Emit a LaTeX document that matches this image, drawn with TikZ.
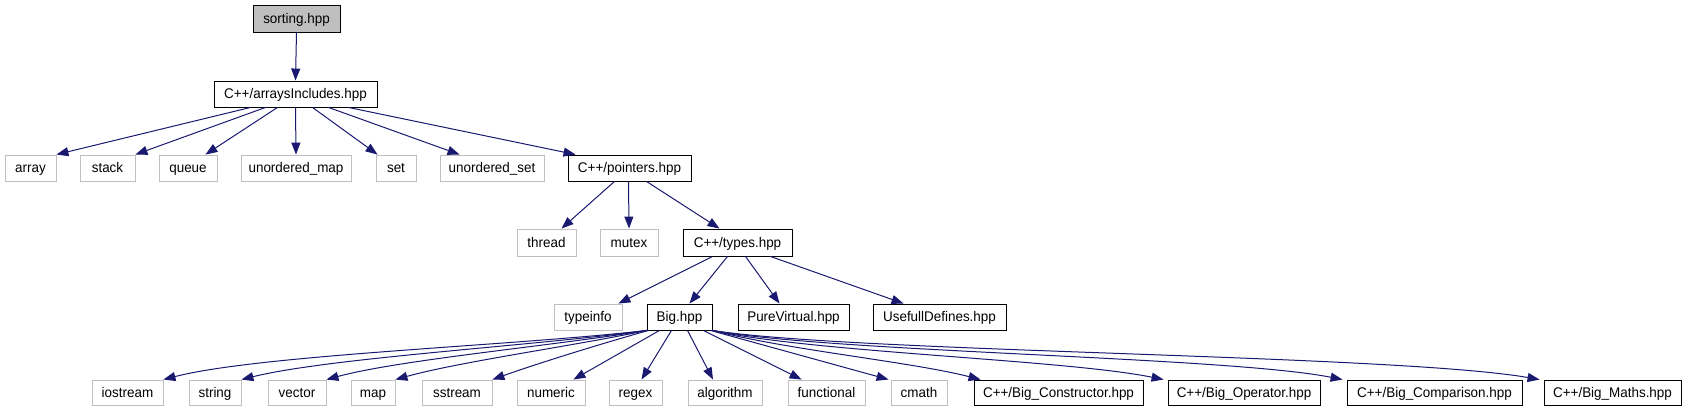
\documentclass[tikz,border=0pt]{standalone}
\usepackage{fontspec}
\setmainfont[FakeStretch=0.96]{Liberation Sans}
\usetikzlibrary{arrows.meta}
\definecolor{edgeblue}{HTML}{191970}
\definecolor{extgrey}{HTML}{BFBFBF}
\newcommand{\mknode}[7]{\node[#6, minimum width={#3-#2}, minimum height={#5-#4}] (#1) at ({(#2+#3)/2},{(#4+#5)/2}) {#7};}
\begin{document}
\begin{tikzpicture}[x=1pt,y=-1pt,
  basebox/.style={rectangle, inner sep=0pt, line width=0.9pt, font=\fontsize{14}{14}\selectfont, text=black, text height=10pt, text depth=0pt},
  filebox/.style={basebox, draw=black, fill=white},
  rootbox/.style={basebox, draw=black, fill=extgrey},
  extbox/.style={basebox, draw=extgrey, fill=white},
  edge/.style={draw=edgeblue, line width=1pt, -{Triangle[length=12pt,width=9pt]}, fill=none},
]
\useasboundingbox (0,0) rectangle (1688,411);
% row 0,1
\mknode{sorting}{253}{340}{5}{32}{rootbox}{sorting.hpp}
\mknode{arrays}{214}{377}{81}{107}{filebox}{C++/arraysIncludes.hpp}
% row 2
\mknode{array}{5}{56}{155}{181}{extbox}{array}
\mknode{stack}{80}{135}{155}{181}{extbox}{stack}
\mknode{queue}{159}{217}{155}{181}{extbox}{queue}
\mknode{umap}{241}{351}{155}{181}{extbox}{unordered\_map}
\mknode{set}{376}{416}{155}{181}{extbox}{set}
\mknode{uset}{440}{544}{155}{181}{extbox}{unordered\_set}
\mknode{pointers}{568}{691}{155}{181}{filebox}{C++/pointers.hpp}
% row 3
\mknode{thread}{517}{576}{229}{256}{extbox}{thread}
\mknode{mutex}{600}{658}{229}{256}{extbox}{mutex}
\mknode{types}{683}{792}{229}{256}{filebox}{C++/types.hpp}
% row 4
\mknode{typeinfo}{554}{622}{304}{330}{extbox}{typeinfo}
\mknode{big}{647}{712}{304}{330}{filebox}{Big.hpp}
\mknode{pv}{738}{849}{304}{330}{filebox}{PureVirtual.hpp}
\mknode{ud}{873}{1006}{304}{330}{filebox}{UsefullDefines.hpp}
% row 5
\mknode{iostream}{92}{163}{380}{405}{extbox}{iostream}
\mknode{string}{189}{241}{380}{405}{extbox}{string}
\mknode{vector}{268}{326}{380}{405}{extbox}{vector}
\mknode{map}{351}{395}{380}{405}{extbox}{map}
\mknode{sstream}{422}{492}{380}{405}{extbox}{sstream}
\mknode{numeric}{517}{585}{380}{405}{extbox}{numeric}
\mknode{regex}{609}{662}{380}{405}{extbox}{regex}
\mknode{algorithm}{688}{762}{380}{405}{extbox}{algorithm}
\mknode{functional}{788}{865}{380}{405}{extbox}{functional}
\mknode{cmath}{891}{947}{380}{405}{extbox}{cmath}
\mknode{bcons}{974}{1143}{380}{405}{filebox}{C++/Big\_Constructor.hpp}
\mknode{bop}{1168}{1320}{380}{405}{filebox}{C++/Big\_Operator.hpp}
\mknode{bcomp}{1347}{1522}{380}{405}{filebox}{C++/Big\_Comparison.hpp}
\mknode{bmaths}{1544}{1681}{380}{405}{filebox}{C++/Big\_Maths.hpp}
% edges level 0-1
\draw[edge] (sorting.south) -- (arrays.north);
% arrays -> row 2
\draw[edge] ([xshift=-45]arrays.south) -- (array.north east);
\draw[edge] ([xshift=-30]arrays.south) -- (stack.north east);
\draw[edge] ([xshift=-18]arrays.south) -- ([xshift=-12]queue.north east);
\draw[edge] (arrays.south) -- (umap.north);
\draw[edge] ([xshift=17]arrays.south) -- ([xshift=2]set.north west);
\draw[edge] ([xshift=33]arrays.south) -- ([xshift=20]uset.north west);
\draw[edge] ([xshift=53]arrays.south) -- ([xshift=8]pointers.north west);
% pointers -> row 3
\draw[edge] ([xshift=-15]pointers.south) -- ([xshift=15]thread.north);
\draw[edge] ([xshift=-1]pointers.south) -- (mutex.north);
\draw[edge] ([xshift=17]pointers.south) -- ([xshift=-18]types.north);
% types -> row 4
\draw[edge] ([xshift=-25]types.south) -- ([xshift=-4]typeinfo.north east);
\draw[edge] ([xshift=-10]types.south) -- ([xshift=10]big.north);
\draw[edge] ([xshift=8]types.south) -- ([xshift=-14]pv.north);
\draw[edge] ([xshift=33]types.south) -- ([xshift=31]ud.north west);
% Big -> row 5
\draw[edge] (big.south west) .. controls +(-127,15) and +(97,-25) .. (iostream.north east);
\draw[edge] (big.south west) .. controls +(-107,15) and +(89,-22) .. (string.north east);
\draw[edge] (big.south west) .. controls +(-90,15) and +(74,-20) .. (vector.north east);
\draw[edge] (big.south west) .. controls +(-70,15) and +(65,-18) .. (map.north east);
\draw[edge] ([xshift=2]big.south west) .. controls +(-50,14) and +(45,-16) .. (sstream.north east);
\draw[edge] ([xshift=-20]big.south) -- ([xshift=-12]numeric.north east);
\draw[edge] ([xshift=-8]big.south) -- ([xshift=6]regex.north);
\draw[edge] ([xshift=8]big.south) -- ([xshift=-12]algorithm.north);
\draw[edge] ([xshift=24]big.south) -- ([xshift=14]functional.north west);
\draw[edge] ([xshift=-2]big.south east) -- ([xshift=-2]cmath.north west);
\draw[edge] (big.south east) .. controls +(78,20) and +(-71,-18) .. ([xshift=7]bcons.north west);
\draw[edge] (big.south east) .. controls +(100,22) and +(-99,-20) .. ([xshift=-4]bop.north west);
\draw[edge] (big.south east) .. controls +(120,22) and +(-117,-23) .. ([xshift=-4]bcomp.north west);
\draw[edge] (big.south east) .. controls +(140,22) and +(-144,-25) .. ([xshift=-4]bmaths.north west);
\end{tikzpicture}
\end{document}
